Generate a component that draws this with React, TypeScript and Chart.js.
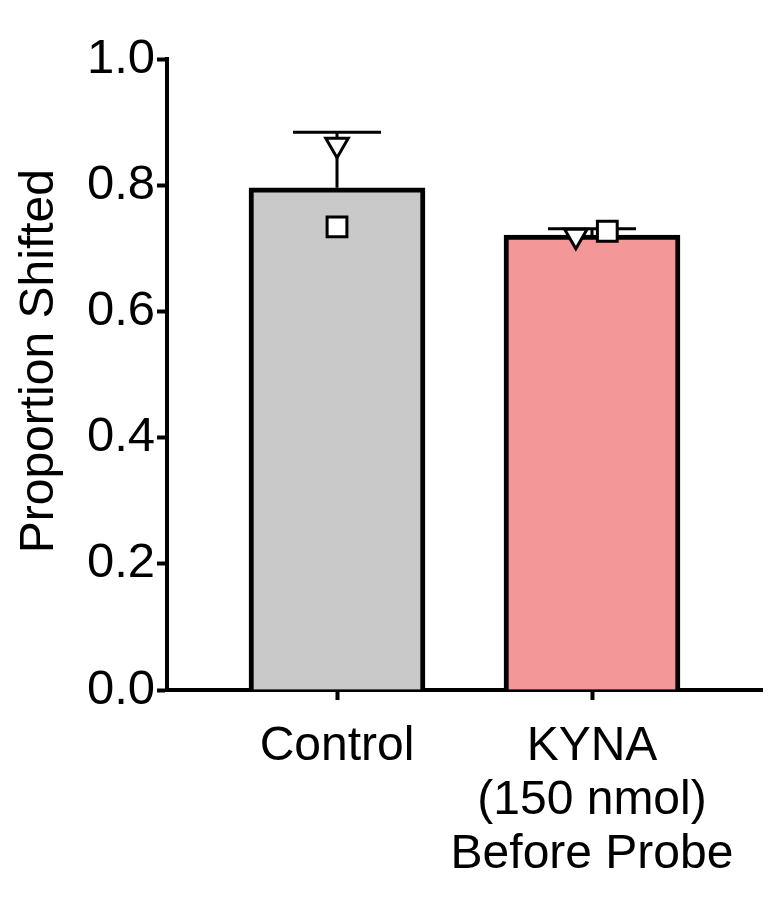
import React, { useEffect, useRef } from 'react';
import { Chart, registerables } from 'chart.js';

Chart.register(...registerables);

// ---- data ----
const CATEGORIES = ['Control', 'KYNA\n(150 nmol)\nBefore Probe'];
const MEANS = [0.796, 0.721];
const UPPER_ERROR = [0.884, 0.731];
const SQUARE_POINTS = [0.734, 0.727];
const TRIANGLE_POINTS = [0.864, 0.72];
const BAR_COLORS = ['#c9c9c9', '#f49799'];
const Y_TICKS = [0, 0.2, 0.4, 0.6, 0.8, 1.0];
const Y_TITLE = 'Proportion Shifted';

// ---- layout helpers (not data) ----
const X_MIN = 0;
const X_MAX = 7;
const pos = (i: number) => 2 + i * 3;
const SQUARE_JITTER = [0, 0.18];
const TRIANGLE_JITTER = [0, -0.19];

const FONT = "'Liberation Sans', Arial, Helvetica, sans-serif";

const errorBars = {
  id: 'errorBars',
  afterDatasetDraw(chart: any, args: any) {
    if (args.index !== 0) return;
    const { ctx, scales } = chart;
    const x = scales.x;
    const y = scales.y;
    ctx.save();
    ctx.strokeStyle = '#000';
    ctx.lineWidth = 3;
    MEANS.forEach((m, i) => {
      const px = x.getPixelForValue(pos(i));
      const yb = y.getPixelForValue(m);
      const yt = y.getPixelForValue(UPPER_ERROR[i]);
      ctx.beginPath();
      ctx.moveTo(px, yb);
      ctx.lineTo(px, yt);
      ctx.moveTo(px - 44, yt);
      ctx.lineTo(px + 44, yt);
      ctx.stroke();
    });
    ctx.restore();
  },
};

export default function App() {
  const ref = useRef<HTMLCanvasElement | null>(null);

  useEffect(() => {
    if (!ref.current) return;
    Chart.defaults.color = '#000';
    Chart.defaults.font.family = FONT;
    const axisGrid = {
      display: true,
      offset: false,
      drawOnChartArea: false,
      drawTicks: true,
      tickLength: 10,
      tickWidth: 4,
      tickColor: '#000',
    };
    const axisBorder = { display: true, width: 4, color: '#000' };
    const chart = new Chart(ref.current, {
      type: 'bar',
      data: {
        datasets: [
          {
            type: 'bar',
            data: MEANS.map((v, i) => ({ x: pos(i), y: v })),
            backgroundColor: BAR_COLORS,
            borderColor: '#000',
            borderWidth: 5,
            barThickness: 176,
            order: 3,
          } as any,
          {
            type: 'scatter',
            data: SQUARE_POINTS.map((v, i) => ({ x: pos(i) + SQUARE_JITTER[i], y: v })),
            pointStyle: 'rect',
            pointRadius: 14,
            pointBackgroundColor: '#fff',
            pointBorderColor: '#000',
            pointBorderWidth: 3,
            order: 1,
          } as any,
          {
            type: 'scatter',
            data: TRIANGLE_POINTS.map((v, i) => ({ x: pos(i) + TRIANGLE_JITTER[i], y: v })),
            pointStyle: 'triangle',
            pointRotation: 180,
            pointRadius: 13,
            pointBackgroundColor: '#fff',
            pointBorderColor: '#000',
            pointBorderWidth: 3,
            order: 2,
          } as any,
        ],
      },
      options: {
        responsive: false,
        animation: false,
        layout: { padding: { top: 59, right: 14, left: 0, bottom: 0 } },
        plugins: { legend: { display: false }, tooltip: { enabled: false } },
        scales: {
          x: {
            type: 'linear',
            offset: false,
            min: X_MIN,
            max: X_MAX,
            afterBuildTicks: (s: any) => {
              s.ticks = CATEGORIES.map((_, i) => ({ value: pos(i) }));
            },
            ticks: {
              autoSkip: false,
              maxRotation: 0,
              padding: 20,
              font: { size: 48, lineHeight: 1.12 },
              callback: (_v: any, i: number) => (CATEGORIES[i] ? CATEGORIES[i].split('\n') : ''),
            },
            grid: axisGrid,
            border: axisBorder,
            afterFit: (s: any) => {
              s.height = 207;
            },
          } as any,
          y: {
            type: 'linear',
            min: 0,
            max: 1,
            afterBuildTicks: (s: any) => {
              s.ticks = Y_TICKS.map((v) => ({ value: v }));
            },
            ticks: {
              padding: 2,
              font: { size: 49 },
              callback: (v: any) => Number(v).toFixed(1),
            },
            grid: axisGrid,
            border: axisBorder,
            title: {
              display: true,
              text: '\u00a0\u00a0' + Y_TITLE,
              font: { size: 48 },
              padding: { top: 11, bottom: 0 },
            },
            afterFit: (s: any) => {
              s.width = 167;
            },
          } as any,
        },
      },
      plugins: [errorBars],
    });
    return () => chart.destroy();
  }, []);

  return (
    <div style={{ position: 'absolute', left: 0, top: 0, width: 779, height: 897, background: '#fff' }}>
      <canvas ref={ref} width={779} height={897} style={{ display: 'block' }} />
    </div>
  );
}
